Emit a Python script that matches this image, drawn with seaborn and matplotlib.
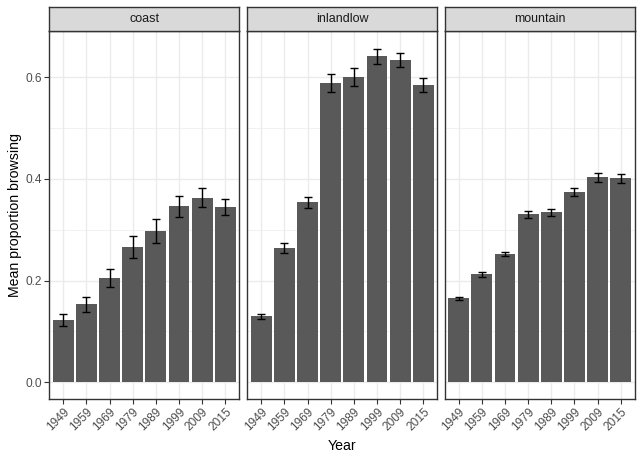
import matplotlib
matplotlib.use("Agg")
import matplotlib.pyplot as plt
import seaborn as sns
import pandas as pd
import numpy as np

years = ["1949", "1959", "1969", "1979", "1989", "1999", "2009", "2015"]
regions = ["coast", "inlandlow", "mountain"]

coast_mean = [0.122, 0.153, 0.205, 0.266, 0.297, 0.346, 0.363, 0.345]
coast_se = [0.012, 0.014, 0.018, 0.021, 0.023, 0.021, 0.018, 0.016]
inland_mean = [0.130, 0.264, 0.354, 0.588, 0.600, 0.641, 0.633, 0.584]
inland_se = [0.005, 0.010, 0.011, 0.017, 0.017, 0.015, 0.014, 0.014]
mountain_mean = [0.165, 0.212, 0.252, 0.330, 0.334, 0.374, 0.403, 0.401]
mountain_se = [0.003, 0.005, 0.004, 0.0075, 0.007, 0.008, 0.009, 0.009]

means = {"coast": coast_mean, "inlandlow": inland_mean, "mountain": mountain_mean}
ses = {"coast": coast_se, "inlandlow": inland_se, "mountain": mountain_se}

rows = []
for r in regions:
    for y, m, s in zip(years, means[r], ses[r]):
        rows.append({"region": r, "Year": y, "mean": m, "se": s})
df = pd.DataFrame(rows)

sns.set_theme(style="white")
plt.rcParams["font.family"] = ["Liberation Sans", "DejaVu Sans"]

W, H = 642, 461
fig = plt.figure(figsize=(W / 100, H / 100), dpi=100)

lefts = [49.3, 247.3, 444.7]
right_w = 190.0
top_px, bot_px = 31.5, 399.0
strip_top = 7.3

bar_color = "#595959"
grid_color = "#EBEBEB"
border = "#333333"

for i, r in enumerate(regions):
    sub = df[df["region"] == r]
    ax = fig.add_axes([lefts[i] / W, (H - bot_px) / H, right_w / W, (bot_px - top_px) / H])
    sns.barplot(data=sub, x="Year", y="mean", order=years, color=bar_color,
                width=0.9, errorbar=None, ax=ax, saturation=1, zorder=3)
    for p in ax.patches:
        p.set_edgecolor("none")
    xs = np.arange(len(years))
    ax.errorbar(xs, sub["mean"].values, yerr=sub["se"].values, fmt="none",
                ecolor="black", elinewidth=1.0, capsize=2.8, capthick=1.0, zorder=4)
    ax.set_xlim(-0.6, len(years) - 1 + 0.6)
    ax.set_ylim(-0.0328, 0.6895)
    ax.set_yticks([0.0, 0.2, 0.4, 0.6])
    ax.set_yticks([0.1, 0.3, 0.5], minor=True)
    ax.grid(True, which="major", color=grid_color, linewidth=1.0, zorder=0)
    ax.grid(True, which="minor", axis="y", color=grid_color, linewidth=0.5, zorder=0)
    ax.set_axisbelow(True)
    ax.set_facecolor("white")
    for s in ax.spines.values():
        s.set_color(border)
        s.set_linewidth(1.0)
        s.set_visible(True)
    ax.tick_params(axis="both", which="major", length=3.5, width=0.8, color=border,
                   labelsize=8.6, labelcolor="#4D4D4D", pad=1.5, bottom=True, left=True)
    ax.tick_params(axis="y", which="minor", length=0)
    ax.set_xticks(xs)
    ax.set_xticklabels(years, rotation=45, ha="right", rotation_mode="anchor")
    ax.set_xlabel("")
    ax.set_ylabel("")
    if i == 0:
        ax.set_yticklabels(["0.0", "0.2", "0.4", "0.6"])
    else:
        ax.set_yticklabels([])
        ax.tick_params(axis="y", which="major", length=0)
    # strip
    sax = fig.add_axes([lefts[i] / W, (H - top_px) / H, right_w / W, (top_px - strip_top) / H])
    sax.set_facecolor("#D9D9D9")
    sax.set_xticks([])
    sax.set_yticks([])
    for s in sax.spines.values():
        s.set_color(border)
        s.set_linewidth(1.0)
    sax.text(0.5, 0.5, r, ha="center", va="center", fontsize=9.0, color="#1A1A1A",
             transform=sax.transAxes)

fig.text((49.3 + 634.7) / 2 / W, 1 - 446 / H, "Year", ha="center", va="center",
         fontsize=10.2, color="black")
fig.text(15 / W, 1 - 215 / H, "Mean proportion browsing", ha="center", va="center",
         rotation=90, fontsize=10.2, color="black")

fig.savefig("out.png", dpi=100, facecolor="white")
